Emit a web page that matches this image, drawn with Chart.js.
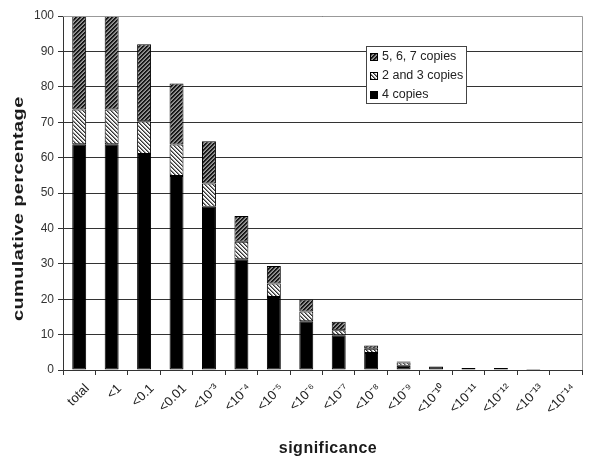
<!DOCTYPE html>
<html>
<head>
<meta charset="utf-8">
<script src="https://cdn.jsdelivr.net/npm/chart.js@4/dist/chart.umd.min.js"></script>
<style>
html,body{margin:0;padding:0;background:#fff;}
#wrap{width:600px;height:463px;position:relative;}
</style>
</head>
<body>
<div id="wrap"><canvas id="c" width="600" height="463"></canvas></div>
<script>
const categories = ["total", "<1", "<0.1", "<0.01", "<10\u207B\u00B3", "<10\u207B\u2074", "<10\u207B\u2075", "<10\u207B\u2076", "<10\u207B\u2077", "<10\u207B\u2078", "<10\u207B\u2079", "<10\u207B\u00B9\u2070", "<10\u207B\u00B9\u00B9", "<10\u207B\u00B9\u00B2", "<10\u207B\u00B9\u00B3", "<10\u207B\u00B9\u2074"];
const fourCopies     = [63.8, 63.8, 61.0, 54.8, 46.1, 31.3, 20.6, 13.8, 9.8, 4.8, 1.2, 1.0, 0.6, 0.6, 0.3, 0];
const twoThreeCopies = [9.8, 9.8, 9.3, 8.9, 6.6, 4.9, 3.8, 2.7, 1.4, 1.2, 0.9, 0, 0, 0, 0, 0];
const fiveSixSeven   = [26.4, 26.4, 21.7, 17.2, 11.9, 7.3, 5.0, 3.4, 2.4, 0.9, 0.3, 0, 0, 0, 0, 0];
const yTicks = [0, 10, 20, 30, 40, 50, 60, 70, 80, 90, 100];
const seriesNames = ["4 copies", "2 and 3 copies", "5, 6, 7 copies"];
const xTitle = "significance";
const yTitle = "cumulative percentage";

const FONT = '"Liberation Sans", Arial, sans-serif';

function makePattern(dir, colors) {
  const n = colors.length;
  const cv = document.createElement('canvas');
  cv.width = n; cv.height = n;
  const cx = cv.getContext('2d');
  for (let x = 0; x < n; x++) for (let y = 0; y < n; y++) {
    const k = dir === '/' ? ((x + y) % n) : (((x - y) % n) + n) % n;
    cx.fillStyle = colors[k];
    cx.fillRect(x, y, 1, 1);
  }
  return document.getElementById('c').getContext('2d').createPattern(cv, 'repeat');
}
const darkHatch = makePattern('/', ['#111', '#222', '#777', '#999']);
const lightHatch = makePattern('\\', ['#333', '#888', '#eee', '#fff']);
const fills = ['#000', lightHatch, darkHatch];

const bgPlugin = {
  id: 'bg',
  beforeDraw(chart) {
    const c = chart.ctx;
    c.save(); c.fillStyle = '#fff'; c.fillRect(0, 0, chart.width, chart.height); c.restore();
  },
  afterDatasetsDraw(chart) {
    const c = chart.ctx, a = chart.chartArea;
    c.save();
    c.strokeStyle = '#999'; c.lineWidth = 1;
    c.beginPath();
    c.moveTo(a.left, Math.round(a.top) + 0.5);
    c.lineTo(Math.round(a.right) + 0.5, Math.round(a.top) + 0.5);
    c.lineTo(Math.round(a.right) + 0.5, Math.round(a.bottom));
    c.stroke();
    // legend box
    const lx = 366.5, ly = 46.5, lw = 100, lh = 57;
    c.fillStyle = '#fff'; c.fillRect(lx, ly, lw, lh);
    c.strokeStyle = '#444'; c.strokeRect(lx, ly, lw, lh);
    const order = [2, 1, 0];
    c.font = '12.5px ' + FONT;
    c.textBaseline = 'middle'; c.textAlign = 'left';
    order.forEach((di, i) => {
      const cy = 57 + i * 19;
      c.fillStyle = fills[di];
      c.fillRect(370, cy - 4, 8, 8);
      c.strokeStyle = '#000'; c.strokeRect(370.5, cy - 3.5, 7, 7);
      c.fillStyle = '#222';
      c.fillText(seriesNames[di], 382, cy);
    });
    // axis titles
    c.fillStyle = '#1a1a1a';
    c.textAlign = 'center'; c.textBaseline = 'middle';
    c.font = 'bold 16px ' + FONT;
    c.letterSpacing = '0.5px';
    c.fillText(xTitle, 328, 449);
    c.save();
    c.translate(19, 210);
    c.rotate(-Math.PI / 2);
    c.scale(1.33, 1);
    c.font = 'bold 15px ' + FONT;
    c.letterSpacing = '0.3px';
    c.fillText(yTitle, 1, 0);
    c.restore();
    c.restore();
  }
};

new Chart(document.getElementById('c'), {
  type: 'bar',
  data: {
    labels: categories,
    datasets: [
      { label: seriesNames[0], data: fourCopies, backgroundColor: fills[0] },
      { label: seriesNames[1], data: twoThreeCopies, backgroundColor: fills[1] },
      { label: seriesNames[2], data: fiveSixSeven, backgroundColor: fills[2] }
    ].map(d => Object.assign(d, { borderColor: '#000', borderWidth: 1, borderSkipped: false, categoryPercentage: 1, barPercentage: 0.43 }))
  },
  options: {
    responsive: false,
    animation: false,
    layout: { padding: { left: 0, right: 18, top: 16, bottom: 0 } },
    plugins: { legend: { display: false }, tooltip: { enabled: false } },
    scales: {
      x: {
        stacked: true,
        grid: { offset: true, drawOnChartArea: false, color: '#333', tickLength: 5 },
        border: { color: '#333' },
        ticks: { maxRotation: 45, minRotation: 45, autoSkip: false, labelOffset: 8, padding: 6, color: '#222',
                 font: { family: FONT, size: 13 } },
        afterFit(s) { s.height = 93; }
      },
      y: {
        stacked: true, min: 0, max: 100,
        afterBuildTicks(s) { s.ticks = yTicks.map(v => ({ value: v })); },
        grid: { color: '#333', tickLength: 5 },
        border: { color: '#333' },
        ticks: { padding: 4, color: '#333', font: { family: FONT, size: 12 } },
        afterFit(s) { s.width = 63; }
      }
    }
  },
  plugins: [bgPlugin]
});
</script>
</body>
</html>
